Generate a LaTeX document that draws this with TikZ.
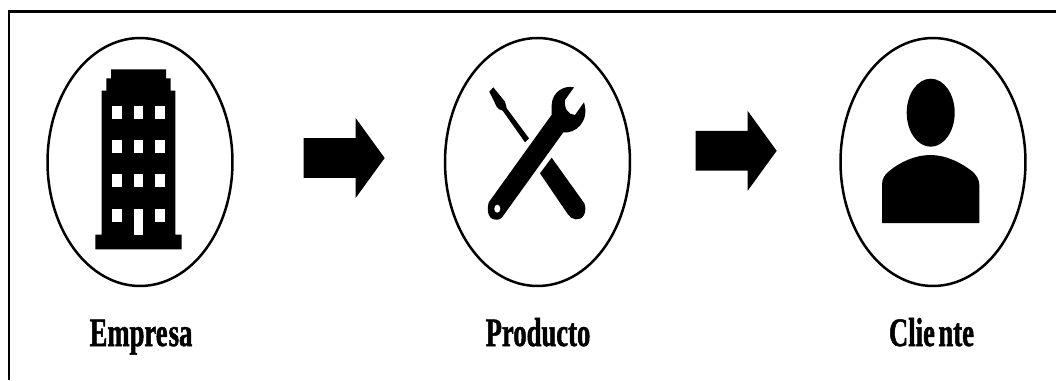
\documentclass[tikz,border=0pt]{standalone}
\usepackage{fontspec}
\usepackage{tikz}
\usetikzlibrary{shapes.geometric, shapes.arrows}
\newfontfamily\labelfont[FakeStretch=0.66, FakeBold=1.2]{Liberation Serif}

\begin{document}
\begin{tikzpicture}[x=0.02cm, y=-0.02cm,
    circulo/.style={ellipse, draw, line width=0.05cm, minimum width=3.7cm, minimum height=4.96cm, inner sep=0pt},
    flecha/.style={single arrow, anchor=tail, fill=black, minimum height=1.62cm, inner ysep=0.39cm, inner xsep=0pt, outer sep=0pt,
        single arrow head extend=0.4cm, single arrow tip angle=108},
    etiqueta/.style={font=\labelfont\bfseries\fontsize{23}{23}\selectfont, inner sep=0pt, anchor=base}]
    \useasboundingbox (0,0) rectangle (1056,380);
    \draw[line width=0.06cm] (9,380) -- (9,11) -- (1056,11);

    \node[circulo] (empresa) at (140,162) {};
    \node[circulo] (producto) at (537.5,162) {};
    \node[circulo] (cliente) at (933,162) {};

    \node[flecha] (flecha1) at (303.7,158) {};
    \node[flecha] (flecha2) at (695.7,150.8) {};

    \node[etiqueta] (txtempresa) at (141,346) {Empre\kern0.6pt sa};
    \node[etiqueta] (txtproducto) at (538,346) {Producto};
    \node[etiqueta] (txtcliente) at (931.5,346) {Clie\kern2pt nte};

    % edificio
    \fill (95.3,249.3) -- (95.3,234.7) -- (101.7,234.7) -- (101.7,90.7) -- (106.3,90.7) -- (106.3,78.3)
        -- (111,78.3) -- (111,69.3) -- (166,69.3) -- (166,78.3) -- (170.7,78.3) -- (170.7,90.7)
        -- (175.3,90.7) -- (175.3,234.7) -- (181.7,234.7) -- (181.7,249.3) -- cycle;
    \foreach \x in {112.3,133.7,155.3} {
        \foreach \y in {105.7,140,174.3} {
            \fill[white] (\x,\y) rectangle ++(9.5,13);
        }
    }
    \fill[white] (112.3,208.7) rectangle ++(9.5,13);
    \fill[white] (155.3,208.7) rectangle ++(9.5,13);
    \fill[white] (133.7,208.7) rectangle ++(9.5,26);

    % destornillador
    \fill (493.3,87.3) -- (505,101.7) .. controls (506,104) and (506,106) .. (506.7,108.3) -- (529,138.3) -- (525,142.3)
        -- (502.7,110.7) .. controls (500,110) and (498,109) .. (496.7,106.7) -- (489.3,91.7) -- cycle;
    \fill (551.7,157.7) -- (540,173.3) -- (567.7,214) .. controls (571,220) and (580,222) .. (584,215)
        .. controls (586,211) and (585.5,206) .. (584.3,203.3) -- cycle;

    % llave
    \fill (551.5,115) -- (488.8,202.3) .. controls (486.5,210) and (488,219) .. (495,219.5)
        .. controls (499,220) and (501,219) .. (503,216) -- (563.3,132.3)
        .. controls (575,134) and (590,122) .. (584,102.3) -- (575,115)
        .. controls (568,115) and (564,108) .. (565,100) -- (574,87.3)
        .. controls (564,85) and (552,92) .. (551.7,105) .. controls (551.7,109) and (551.5,112) .. (551.5,115) -- cycle;
    \fill[white] (497.3,208.7) ellipse (3 and 4);

    % persona
    \fill (930.7,112.7) ellipse (24 and 34);
    \fill (882,223) -- (882,185) .. controls (882,178) and (885,175) .. (888,172)
        .. controls (900,162) and (915,155) .. (930.7,155) .. controls (946,155) and (962,163) .. (973,172)
        .. controls (977,176) and (979.3,180) .. (979.3,185) -- (979.3,223) -- cycle;
\end{tikzpicture}
\end{document}
